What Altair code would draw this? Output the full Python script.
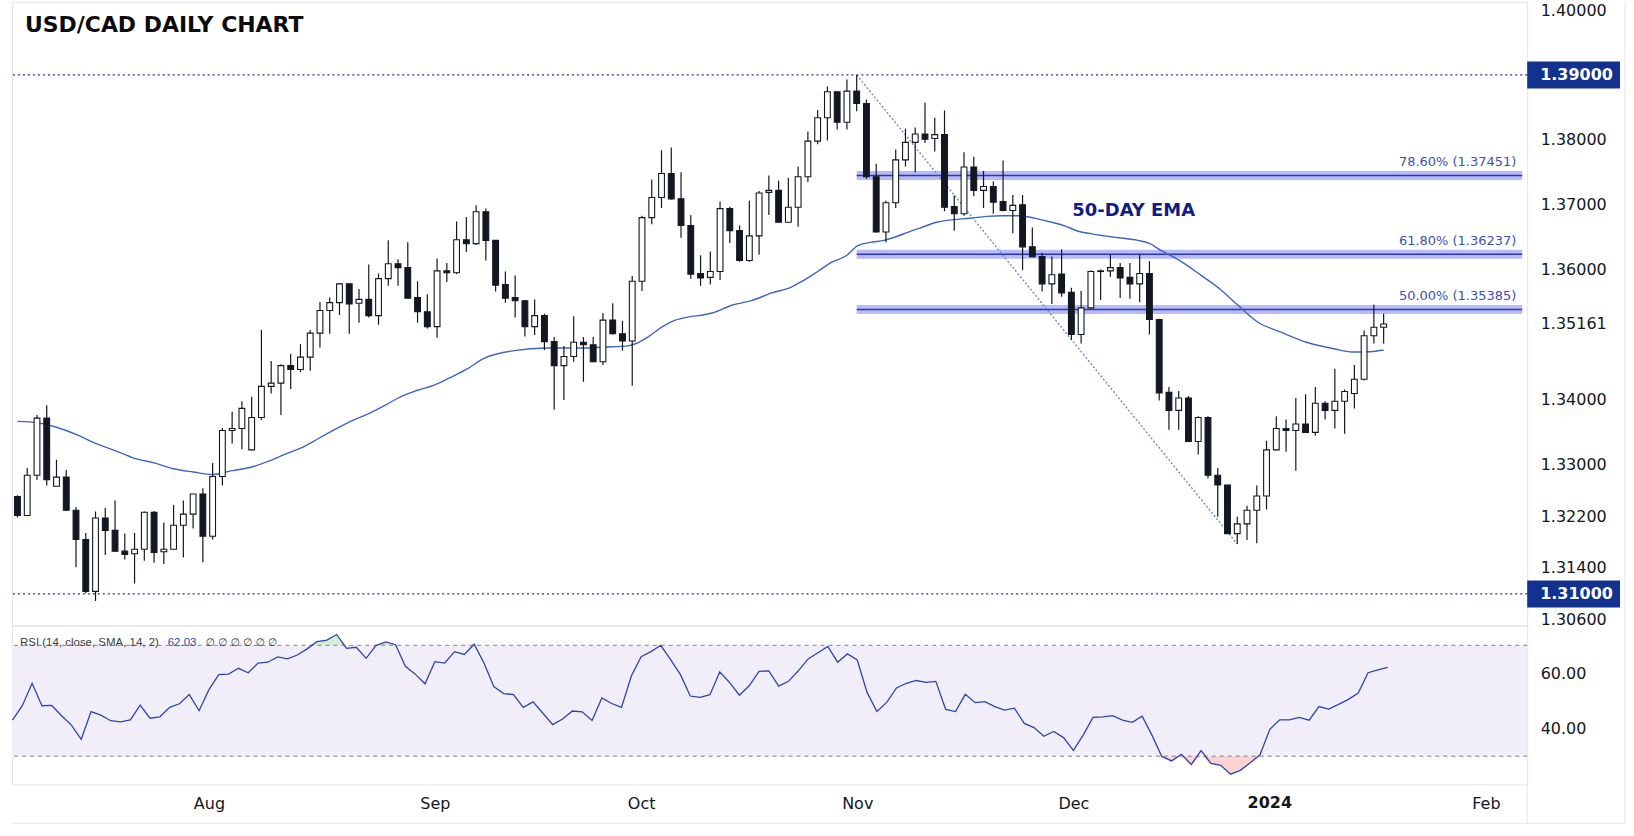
import altair as alt
import pandas as pd

# ------------------------------------------------------------------ data
TITLE = "USD/CAD DAILY CHART"
bar_index = list(range(-20, 121))

opens = [
    1.3250, 1.3221, 1.3283, 1.3371, 1.3266, 1.3280, 1.3229, 1.3184, 1.3104, 1.3217,
    1.3198, 1.3166, 1.3162, 1.3169, 1.3226, 1.3165, 1.3169, 1.3206, 1.3223, 1.3254,
    1.3189, 1.3281, 1.3352, 1.3355, 1.3322, 1.3372, 1.3420, 1.3425, 1.3452, 1.3446,
    1.3465, 1.3502, 1.3537, 1.3549, 1.3578, 1.3548, 1.3554, 1.3529, 1.3586, 1.3609,
    1.3603, 1.3557, 1.3535, 1.3512, 1.3598, 1.3595, 1.3646, 1.3640, 1.3689, 1.3645,
    1.3577, 1.3557, 1.3552, 1.3512, 1.3529, 1.3489, 1.3452, 1.3466, 1.3488, 1.3484,
    1.3458, 1.3522, 1.3501, 1.3490, 1.3582, 1.3680, 1.3711, 1.3748, 1.3709, 1.3668,
    1.3594, 1.3588, 1.3597, 1.3694, 1.3660, 1.3614, 1.3652, 1.3719, 1.3722, 1.3673,
    1.3696, 1.3743, 1.3798, 1.3834, 1.3874, 1.3827, 1.3875, 1.3856, 1.3743, 1.3658,
    1.3703, 1.3769, 1.3796, 1.3809, 1.3802, 1.3808, 1.3697, 1.3686, 1.3758, 1.3722,
    1.3728, 1.3705, 1.3691, 1.3700, 1.3635, 1.3620, 1.3578, 1.3593, 1.3565, 1.3500,
    1.3541, 1.3597, 1.3598, 1.3603, 1.3588, 1.3578, 1.3594, 1.3523, 1.3411, 1.3383,
    1.3402, 1.3335, 1.3372, 1.3283, 1.3268, 1.3193, 1.3208, 1.3229, 1.3251, 1.3322,
    1.3355, 1.3352, 1.3362, 1.3349, 1.3394, 1.3383, 1.3397, 1.3409, 1.3431, 1.3498,
    1.3511,
]
highs = [
    1.3252, 1.3294, 1.3376, 1.3391, 1.3307, 1.3291, 1.3234, 1.3194, 1.3227, 1.3233,
    1.3244, 1.3193, 1.3194, 1.3227, 1.3228, 1.3210, 1.3237, 1.3244, 1.3254, 1.3263,
    1.3302, 1.3356, 1.3381, 1.3397, 1.3404, 1.3507, 1.3459, 1.3454, 1.3470, 1.3485,
    1.3507, 1.3550, 1.3557, 1.3579, 1.3579, 1.3570, 1.3608, 1.3594, 1.3645, 1.3616,
    1.3642, 1.3582, 1.3562, 1.3617, 1.3610, 1.3674, 1.3681, 1.3699, 1.3694, 1.3645,
    1.3597, 1.3591, 1.3553, 1.3554, 1.3532, 1.3496, 1.3482, 1.3528, 1.3496, 1.3496,
    1.3533, 1.3548, 1.3521, 1.3590, 1.3683, 1.3739, 1.3784, 1.3788, 1.3750, 1.3684,
    1.3622, 1.3628, 1.3705, 1.3697, 1.3668, 1.3706, 1.3721, 1.3745, 1.3737, 1.3741,
    1.3759, 1.3813, 1.3846, 1.3882, 1.3874, 1.3893, 1.3900, 1.3862, 1.3763, 1.3706,
    1.3785, 1.3817, 1.3819, 1.3857, 1.3834, 1.3845, 1.3714, 1.3781, 1.3774, 1.3752,
    1.3736, 1.3768, 1.3715, 1.3715, 1.3665, 1.3626, 1.3620, 1.3631, 1.3572, 1.3567,
    1.3599, 1.3600, 1.3623, 1.3610, 1.3610, 1.3624, 1.3613, 1.3524, 1.3419, 1.3413,
    1.3405, 1.3374, 1.3374, 1.3294, 1.3268, 1.3219, 1.3236, 1.3267, 1.3336, 1.3374,
    1.3369, 1.3402, 1.3408, 1.3419, 1.3397, 1.3447, 1.3415, 1.3453, 1.3506, 1.3546,
    1.3532,
]
lows = [
    1.3218, 1.3220, 1.3276, 1.3267, 1.3266, 1.3228, 1.3141, 1.3101, 1.3089, 1.3160,
    1.3165, 1.3153, 1.3116, 1.3151, 1.3148, 1.3146, 1.3168, 1.3156, 1.3201, 1.3149,
    1.3184, 1.3267, 1.3332, 1.3323, 1.3321, 1.3368, 1.3409, 1.3376, 1.3416, 1.3442,
    1.3444, 1.3480, 1.3501, 1.3530, 1.3501, 1.3518, 1.3526, 1.3515, 1.3575, 1.3575,
    1.3555, 1.3518, 1.3509, 1.3495, 1.3581, 1.3593, 1.3627, 1.3638, 1.3614, 1.3566,
    1.3549, 1.3526, 1.3497, 1.3499, 1.3476, 1.3384, 1.3399, 1.3458, 1.3427, 1.3457,
    1.3453, 1.3500, 1.3475, 1.3421, 1.3567, 1.3670, 1.3695, 1.3708, 1.3649, 1.3586,
    1.3575, 1.3577, 1.3584, 1.3641, 1.3612, 1.3612, 1.3623, 1.3684, 1.3673, 1.3672,
    1.3666, 1.3735, 1.3793, 1.3799, 1.3816, 1.3816, 1.3844, 1.3740, 1.3657, 1.3642,
    1.3695, 1.3759, 1.3750, 1.3795, 1.3782, 1.3690, 1.3660, 1.3683, 1.3713, 1.3695,
    1.3686, 1.3690, 1.3656, 1.3599, 1.3619, 1.3566, 1.3547, 1.3558, 1.3492, 1.3486,
    1.3540, 1.3553, 1.3589, 1.3556, 1.3555, 1.3550, 1.3500, 1.3398, 1.3353, 1.3353,
    1.3334, 1.3315, 1.3278, 1.3219, 1.3193, 1.3177, 1.3183, 1.3178, 1.3230, 1.3321,
    1.3319, 1.3290, 1.3348, 1.3344, 1.3369, 1.3355, 1.3347, 1.3386, 1.3429, 1.3486,
    1.3486,
]
closes = [
    1.3221, 1.3283, 1.3371, 1.3276, 1.3280, 1.3229, 1.3184, 1.3104, 1.3217, 1.3198,
    1.3166, 1.3161, 1.3169, 1.3226, 1.3164, 1.3169, 1.3206, 1.3223, 1.3254, 1.3189,
    1.3281, 1.3352, 1.3355, 1.3386, 1.3372, 1.3420, 1.3425, 1.3452, 1.3446, 1.3465,
    1.3502, 1.3537, 1.3549, 1.3578, 1.3547, 1.3554, 1.3529, 1.3586, 1.3609, 1.3603,
    1.3556, 1.3535, 1.3512, 1.3598, 1.3595, 1.3646, 1.3640, 1.3689, 1.3645, 1.3576,
    1.3556, 1.3552, 1.3512, 1.3529, 1.3489, 1.3452, 1.3466, 1.3488, 1.3484, 1.3458,
    1.3522, 1.3501, 1.3490, 1.3582, 1.3680, 1.3711, 1.3748, 1.3709, 1.3668, 1.3593,
    1.3587, 1.3597, 1.3694, 1.3660, 1.3614, 1.3652, 1.3718, 1.3722, 1.3673, 1.3696,
    1.3743, 1.3798, 1.3834, 1.3874, 1.3827, 1.3875, 1.3856, 1.3743, 1.3658, 1.3703,
    1.3769, 1.3796, 1.3809, 1.3801, 1.3808, 1.3696, 1.3686, 1.3758, 1.3722, 1.3728,
    1.3704, 1.3691, 1.3699, 1.3635, 1.3620, 1.3578, 1.3592, 1.3564, 1.3500, 1.3541,
    1.3597, 1.3598, 1.3603, 1.3587, 1.3578, 1.3594, 1.3523, 1.3410, 1.3383, 1.3402,
    1.3335, 1.3372, 1.3283, 1.3268, 1.3193, 1.3208, 1.3229, 1.3251, 1.3322, 1.3355,
    1.3352, 1.3362, 1.3349, 1.3394, 1.3383, 1.3397, 1.3412, 1.3431, 1.3498, 1.3511,
    1.3516,
]
rsi_values = [
    43.0, 48.2, 56.3, 48.2, 48.3, 44.6, 41.2, 36.1, 46.1, 44.8,
    42.8, 42.4, 43.1, 48.4, 43.7, 44.2, 47.6, 48.9, 52.2, 46.4,
    54.0, 59.4, 59.6, 61.7, 60.1, 63.6, 63.9, 65.8, 65.1, 66.5,
    68.7, 71.3, 71.9, 73.9, 68.9, 69.3, 65.3, 69.9, 71.2, 70.2,
    62.4, 59.6, 56.1, 64.1, 63.6, 67.7, 66.7, 70.4, 63.6, 55.1,
    52.6, 52.2, 47.6, 49.6, 45.5, 41.4, 43.4, 46.3, 46.0, 42.9,
    51.0, 49.0, 47.6, 58.9, 65.9, 67.7, 70.0, 64.8, 59.4, 51.7,
    51.2, 52.2, 60.4, 56.6, 52.0, 55.4, 60.6, 60.8, 55.3, 57.0,
    60.8, 65.1, 67.3, 69.6, 63.9, 66.9, 64.7, 53.0, 46.1, 49.4,
    54.6, 56.3, 57.3, 56.6, 57.0, 46.9, 46.1, 52.3, 49.3, 49.7,
    47.9, 46.6, 47.3, 41.8, 40.3, 37.2, 38.9, 36.7, 32.1, 37.6,
    44.0, 44.2, 44.6, 43.0, 42.2, 44.4, 37.6, 29.9, 28.3, 30.7,
    27.0, 32.0, 27.4, 26.7, 23.5, 24.9, 27.6, 30.5, 39.7, 43.1,
    43.1, 44.0, 43.0, 47.9, 47.0, 48.7, 50.5, 52.8, 60.1, 61.1,
    62.03,
]
ema_index = [
    -20, -18, -16, -14, -12, -10, -8, -6, -4, -2,
    0, 2, 4.1, 5.8, 7.5, 9.2, 10.9, 12.6, 14.3, 16,
    17.7, 19.4, 21, 22.7, 24.4, 26, 27.8, 30.9, 34.2, 37.6,
    41, 42.4, 43.4, 44.7, 46.1, 47.4, 48.8, 50.2, 51.2, 53.2,
    55.2, 57.3, 59.3, 60.3, 62, 63.4, 65, 66.1, 67.4, 68.8,
    70.1, 71.5, 72.5, 74.2, 75.9, 77.6, 79.3, 80.9, 82.6, 84.3,
    86, 87.4, 88.7, 90.1, 91.4, 92.8, 94.8, 96.2, 96.8, 99.2,
    101.3, 103.3, 105, 107.2, 109.4, 112.1, 114.9, 116.8, 118.2, 120,
]
ema_values = [
    1.3366, 1.3364, 1.3357, 1.3346, 1.3332, 1.3321, 1.3309, 1.3302, 1.3293, 1.3288,
    1.3284, 1.3290, 1.3296, 1.3305, 1.3316, 1.3326, 1.3340, 1.3354, 1.3367, 1.3378,
    1.3391, 1.3405, 1.3414, 1.3422, 1.3434, 1.3446, 1.3463, 1.3475, 1.3479, 1.3479,
    1.3481, 1.3482, 1.3486, 1.3497, 1.3512, 1.3522, 1.3527, 1.3530, 1.3533, 1.3545,
    1.3552, 1.3564, 1.3573, 1.3581, 1.3597, 1.3611, 1.3622, 1.3637, 1.3642, 1.3645,
    1.3651, 1.3659, 1.3664, 1.3673, 1.3677, 1.3679, 1.3682, 1.3683, 1.3683, 1.3679,
    1.3673, 1.3667, 1.3659, 1.3655, 1.3652, 1.3649, 1.3645, 1.3639, 1.3633, 1.3613,
    1.3591, 1.3569, 1.3546, 1.3518, 1.3504, 1.3488, 1.3478, 1.3473, 1.3473, 1.3476,
]

month_ticks = [0, 23, 44, 66, 88, 108, 130]
month_labels = ["Aug", "Sep", "Oct", "Nov", "Dec", "2024", "Feb"]
bold_month = "2024"

price_ticks = [1.40, 1.38, 1.37, 1.36, 1.35161, 1.34, 1.33, 1.322, 1.314, 1.306]
key_levels = [1.39, 1.31]
key_labels = ["1.39000", "1.31000"]

fib_levels = [1.37451, 1.36237, 1.35385]
fib_labels = ["78.60% (1.37451)", "61.80% (1.36237)", "50.00% (1.35385)"]
fib_start = 66

swing_index = [66, 105]
swing_price = [1.3900, 1.3177]

ema_note_pos = (88.1, 1.3690)

rsi_bands = [70, 30]
rsi_ticks = [40, 60]
rsi_title = "RSI (14, close, SMA, 14, 2)"
rsi_last = "62.03"
rsi_tail = "∅  ∅  ∅  ∅  ∅  ∅"

# ------------------------------------------------------------------ layout
W = 1518
H_PRICE = 625
H_RSI = 159
X_MIN, X_MAX = -20.05, 134.2
P_MIN, P_MAX = 1.30512, 1.40128
R_MIN, R_MAX = 19.85, 77.1

INK = "#131722"
FONT = "DejaVu Sans"
FRAME = "#e0e3eb"

xs = alt.Scale(domain=[X_MIN, X_MAX], nice=False, zero=False)
ys = alt.Scale(domain=[P_MIN, P_MAX], nice=False, zero=False)
rs = alt.Scale(domain=[R_MIN, R_MAX], nice=False, zero=False)

candles = pd.DataFrame({"i": bar_index, "open": opens, "high": highs,
                        "low": lows, "close": closes})
ema_df = pd.DataFrame({"i": ema_index, "ema": ema_values})
rsi_df = pd.DataFrame({"i": bar_index, "rsi": rsi_values,
                       "hi": [rsi_bands[0]] * len(bar_index),
                       "lo": [rsi_bands[1]] * len(bar_index)})
fib_df = pd.DataFrame({"level": fib_levels, "label": fib_labels,
                       "start": [fib_start] * 3, "end": [X_MAX] * 3})
key_df = pd.DataFrame({"price": key_levels, "label": key_labels})
swing_df = pd.DataFrame({"i": swing_index, "p": swing_price})
note_df = pd.DataFrame({"i": [ema_note_pos[0]], "p": [ema_note_pos[1]],
                        "t": ["50-DAY EMA"]})
band_df = pd.DataFrame({"x0": [X_MIN], "x1": [X_MAX],
                        "y0": [rsi_bands[0]], "y1": [rsi_bands[1]]})
bold_df = pd.DataFrame({"i": [month_ticks[month_labels.index(bold_month)]],
                        "t": [bold_month]})
one = pd.DataFrame({"a": [0]})

# ---- axes: the same object is given to every layer so that they merge
price_axis = alt.Axis(orient="right", values=price_ticks, format=".5f",
                      labelFont=FONT, labelFontSize=16, labelColor=INK,
                      ticks=False, domain=False, grid=False, labelPadding=13,
                      labelOverlap=False, labelFlush=False, title=None)

label_expr = " : ".join(
    f"datum.value == {v} ? '{'' if t == bold_month else t}'"
    for v, t in zip(month_ticks, month_labels)
) + " : ''"

x_axis = alt.Axis(values=month_ticks, labelExpr=label_expr, labelFont=FONT,
                  labelFontSize=16, labelColor=INK, ticks=False, domain=False,
                  grid=False, labelPadding=11, labelFlush=False,
                  labelOverlap=False, title=None)
rsi_axis = alt.Axis(orient="right", values=rsi_ticks, format=".2f",
                    labelFont=FONT, labelFontSize=16, labelColor=INK,
                    ticks=False, domain=False, grid=False, labelPadding=13,
                    labelFlush=False, labelOverlap=False, title=None)


def PX(field):
    return alt.X(field, scale=xs, axis=None)


def PY(field):
    return alt.Y(field, scale=ys, axis=price_axis)


def RX(field):
    return alt.X(field, scale=xs, axis=x_axis)


def RY(field):
    return alt.Y(field, scale=rs, axis=rsi_axis)


# ------------------------------------------------------------------ price pane
key_lines = alt.Chart(key_df).mark_rule(
    color="#1f3396", strokeDash=[2, 3], strokeWidth=1.2
).encode(y=PY("price:Q"))

fib_band = alt.Chart(fib_df).mark_rule(
    color="#b7bbf6", strokeWidth=9, clip=True
).encode(x=PX("start:Q"), x2="end:Q", y=PY("level:Q"))
fib_line = alt.Chart(fib_df).mark_rule(
    color="#2a33c4", strokeWidth=1.6, clip=True
).encode(x=PX("start:Q"), x2="end:Q", y=PY("level:Q"))
fib_text = alt.Chart(fib_df).mark_text(
    align="right", baseline="middle", dy=-13, font=FONT, fontSize=13,
    color="#3d50b8"
).encode(x=alt.value(W - 11), y=PY("level:Q"), text="label:N")

ema_line = alt.Chart(ema_df).mark_line(
    color="#3d66c2", strokeWidth=1.4, clip=True, interpolate="monotone"
).encode(x=PX("i:Q"), y=PY("ema:Q"))

swing = alt.Chart(swing_df).mark_line(
    color="#6580d3", strokeDash=[2, 2], strokeWidth=1.3, clip=True
).encode(x=PX("i:Q"), y=PY("p:Q"))

wicks = alt.Chart(candles).mark_rule(color=INK, strokeWidth=1.2, clip=True).encode(
    x=PX("i:Q"), y=PY("low:Q"), y2="high:Q")
bodies = alt.Chart(candles).mark_bar(
    size=5.8, stroke=INK, strokeWidth=1.1, clip=True
).encode(
    x=PX("i:Q"), y=PY("open:Q"), y2="close:Q",
    fill=alt.condition("datum.close >= datum.open", alt.value("#ffffff"), alt.value(INK)),
)

title = alt.Chart(one).mark_text(
    align="left", baseline="middle", font=FONT, fontSize=22, fontWeight="bold",
    color="#0b0b0b"
).encode(x=alt.value(13), y=alt.value(23), text=alt.value(TITLE))

ema_note = alt.Chart(note_df).mark_text(
    align="left", baseline="middle", font=FONT, fontSize=18, fontWeight="bold",
    color="#101c82"
).encode(x=PX("i:Q"), y=PY("p:Q"), text="t:N")

key_box = alt.Chart(key_df).mark_rule(
    color="#13318f", strokeWidth=27, strokeCap="butt"
).encode(x=alt.value(W), x2=alt.value(W + 93), y=PY("price:Q"))
key_text = alt.Chart(key_df).mark_text(
    align="left", baseline="middle", font=FONT, fontSize=16, fontWeight="bold",
    color="#ffffff"
).encode(x=alt.value(W + 13), y=PY("price:Q"), text="label:N")

frame_right_top = alt.Chart(one).mark_rule(color=FRAME, strokeWidth=1).encode(
    x=alt.value(W + 98), y=alt.value(0), y2=alt.value(H_PRICE))

price_chart = alt.layer(
    key_lines, fib_band, fib_line, fib_text, ema_line, swing, wicks, bodies,
    title, ema_note, key_box, key_text, frame_right_top,
).properties(width=W, height=H_PRICE)

# ------------------------------------------------------------------ RSI pane
band = alt.Chart(band_df).mark_rect(color="#f2eef9").encode(
    x=RX("x0:Q"), x2="x1:Q", y=RY("y0:Q"), y2="y1:Q")
band_lines = alt.Chart(pd.DataFrame({"level": rsi_bands})).mark_rule(
    color="#7d8190", strokeDash=[4, 4], strokeWidth=1
).encode(y=RY("level:Q"))

over = alt.Chart(rsi_df).transform_calculate(
    top="max(datum.rsi, datum.hi)"
).mark_area(color="#d3efd6", clip=True).encode(
    x=RX("i:Q"), y=RY("top:Q"), y2="hi:Q")
under = alt.Chart(rsi_df).transform_calculate(
    bot="min(datum.rsi, datum.lo)"
).mark_area(color="#fbd3d3", clip=True).encode(
    x=RX("i:Q"), y=RY("bot:Q"), y2="lo:Q")

rsi_line = alt.Chart(rsi_df).mark_line(
    color="#2d45ad", strokeWidth=1.3, clip=True
).encode(x=RX("i:Q"), y=RY("rsi:Q"))

bold_label = alt.Chart(bold_df).mark_text(
    align="center", baseline="top", font=FONT, fontSize=16, fontWeight="bold",
    color=INK
).encode(x=RX("i:Q"), y=alt.value(H_RSI + 11), text="t:N")

frame_bottom = alt.Chart(one).mark_rule(color=FRAME, strokeWidth=1).encode(
    x=alt.value(0), x2=alt.value(W + 98), y=alt.value(H_RSI + 39))
frame_axis = alt.Chart(one).mark_rule(color=FRAME, strokeWidth=1).encode(
    x=alt.value(W), y=alt.value(H_RSI), y2=alt.value(H_RSI + 39))
frame_right = alt.Chart(one).mark_rule(color=FRAME, strokeWidth=1).encode(
    x=alt.value(W + 98), y=alt.value(0), y2=alt.value(H_RSI + 39))

rsi_t1 = alt.Chart(one).mark_text(
    align="left", baseline="middle", font="Liberation Sans", fontSize=11.5,
    color="#3b3e48"
).encode(x=alt.value(8), y=alt.value(17), text=alt.value(rsi_title))
rsi_t2 = alt.Chart(one).mark_text(
    align="left", baseline="middle", font="Liberation Sans", fontSize=11.5,
    color="#2d45ad"
).encode(x=alt.value(156), y=alt.value(17), text=alt.value(rsi_last))
rsi_t3 = alt.Chart(one).mark_text(
    align="left", baseline="middle", font="DejaVu Sans", fontSize=10.5,
    color="#3b3e48"
).encode(x=alt.value(194), y=alt.value(17), text=alt.value(rsi_tail))

rsi_chart = alt.layer(
    band, over, under, band_lines, rsi_line, bold_label, frame_bottom, frame_axis,
    frame_right, rsi_t1, rsi_t2, rsi_t3,
).properties(width=W, height=H_RSI)

chart = alt.vconcat(price_chart, rsi_chart, spacing=0, bounds="flush").properties(
    padding={"left": 10, "top": 0, "right": 0, "bottom": 0},
    background="#ffffff",
).configure_view(stroke=FRAME, strokeWidth=1)

chart.save("out.html", embed_options={"renderer": "svg", "actions": False})
